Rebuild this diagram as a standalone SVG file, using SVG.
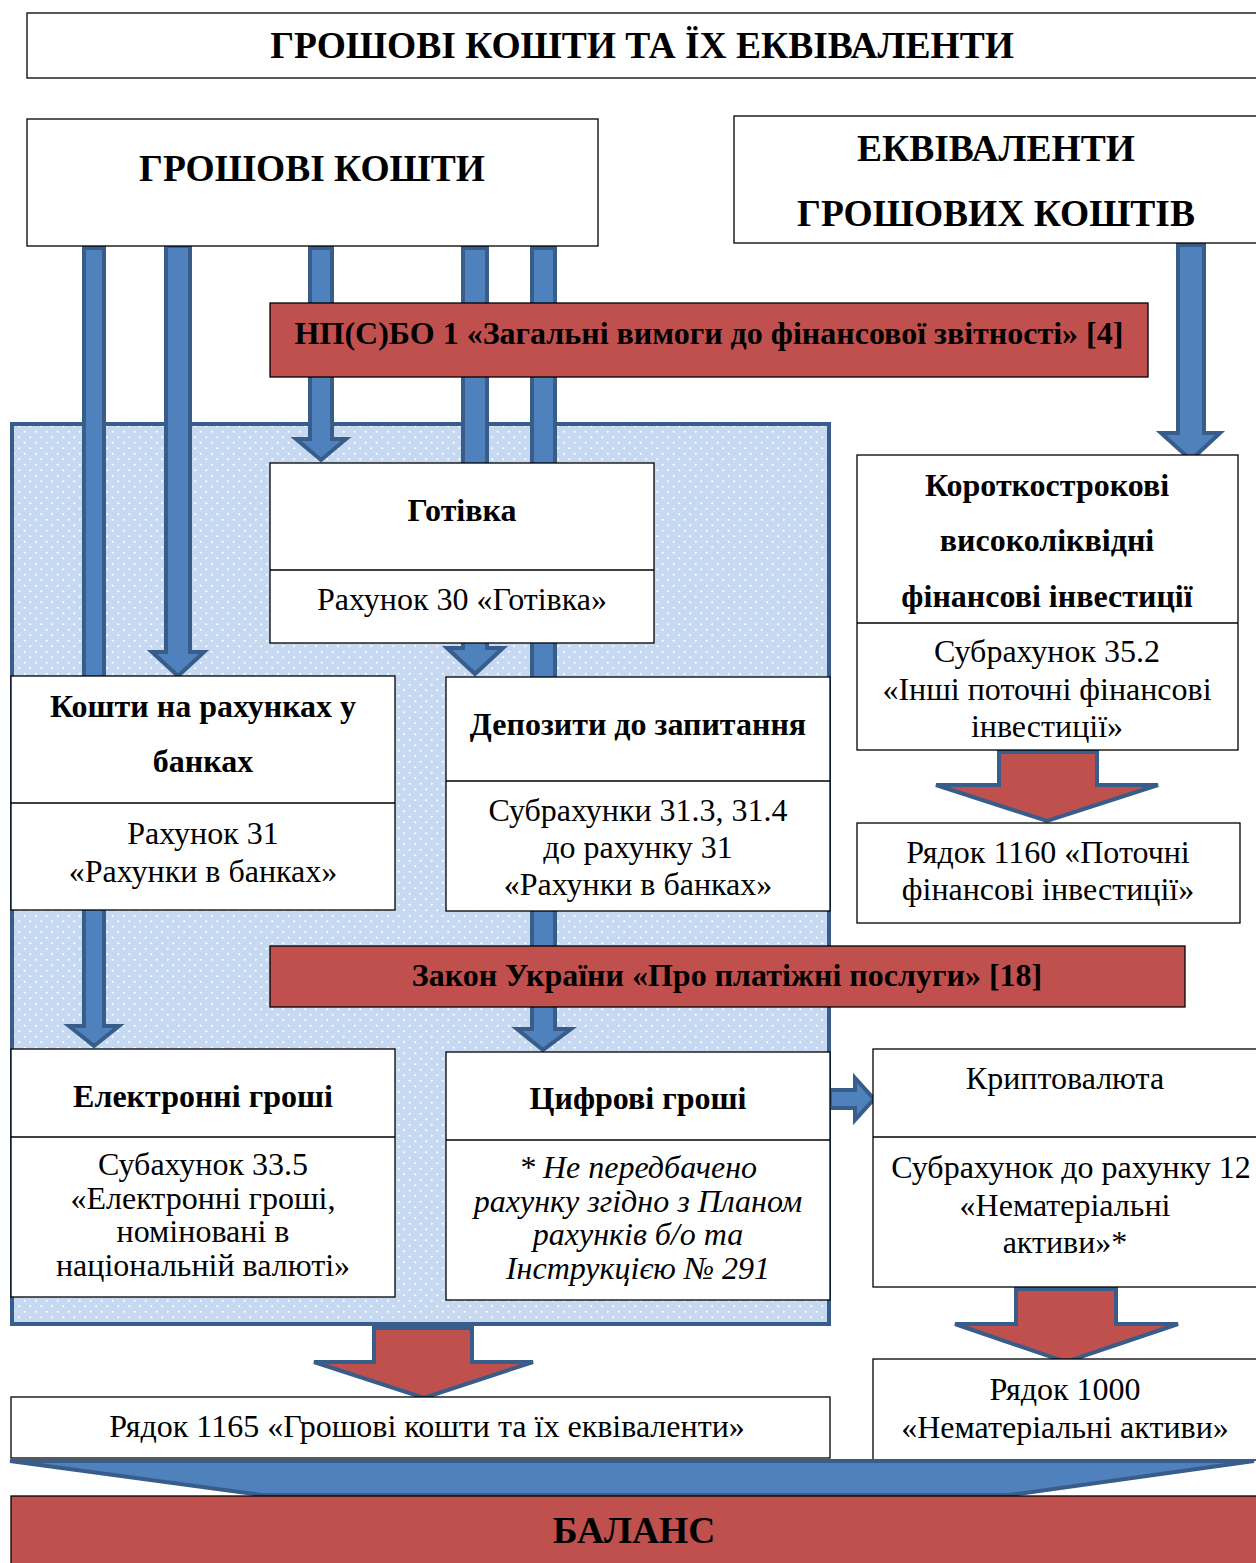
<svg xmlns="http://www.w3.org/2000/svg" width="1256" height="1563" viewBox="0 0 1256 1563">
<defs>
<pattern id="dots" width="11" height="11" patternUnits="userSpaceOnUse">
<rect width="11" height="11" fill="#c6d9f1"/>
<circle cx="2.75" cy="2.75" r="1.1" fill="#ffffff"/>
<circle cx="8.25" cy="8.25" r="1.1" fill="#ffffff"/>
</pattern>
<style>
.box{fill:#ffffff;stroke:#000;stroke-width:1.3}
.red{fill:#c0504d;stroke:#000;stroke-width:1.3}
.ba{fill:#4f81bd;stroke:#385d8a;stroke-width:4;stroke-linejoin:miter}
.ra{fill:#c0504d;stroke:#385d8a;stroke-width:4;stroke-linejoin:miter}
.div{stroke:#000;stroke-width:1.3}
text{font-family:"Liberation Serif","Times New Roman",serif;fill:#000;text-anchor:middle}
.h1{font-size:37.5px;font-weight:bold}
.b{font-size:32px;font-weight:bold}
.r{font-size:32px}
.i{font-size:32px;font-style:italic}
</style>
</defs>
<rect x="0" y="0" width="1256" height="1563" fill="#ffffff"/>

<g id="region">
<rect x="12" y="424" width="817" height="900" fill="url(#dots)" stroke="#385d8a" stroke-width="4"/>
</g>

<g id="connectors">
<path class="ba" d="M84,248 H104 V1026 H119 L94,1046 L69,1026 H84 Z"/>
<path class="ba" d="M166,246 H190 V652 H204 L178,676 L152,652 H166 Z"/>
<path class="ba" d="M310,248 H332 V439 H346 L321,460 L296,439 H310 Z"/>
<path class="ba" d="M463,248 H487 V648 H503 L475,674 L447,648 H463 Z"/>
<path class="ba" d="M532,248 H555 V1029 H571 L543,1050 L517,1029 H532 Z"/>
<path class="ba" d="M1178,245 H1204 V433 H1220 L1191,460 L1161,433 H1178 Z"/>
<path class="ba" d="M830,1090 H855 V1078 L874,1099 L855,1120 V1108 H830 Z"/>
<path class="ra" d="M999,752 H1097 V785 H1158 L1047,821 L936,785 H999 Z"/>
<path class="ra" d="M1016,1289 H1116 V1324 H1178 L1066,1362 L955,1324 H1016 Z"/>
<path class="ra" d="M374,1328 H472 V1362 H533 L424,1398 L314,1362 H374 Z"/>
</g>

<g id="title">
<rect class="box" x="27" y="13" width="1240" height="65"/>
<text class="h1" x="642" y="58">ГРОШОВІ КОШТИ ТА ЇХ ЕКВІВАЛЕНТИ</text>
</g>

<g id="money">
<rect class="box" x="27" y="119" width="571" height="127"/>
<text class="h1" x="312" y="181">ГРОШОВІ КОШТИ</text>
</g>

<g id="equiv">
<rect class="box" x="734" y="116" width="540" height="127"/>
<text class="h1" x="996" y="161">ЕКВІВАЛЕНТИ</text>
<text class="h1" x="996" y="226">ГРОШОВИХ КОШТІВ</text>
</g>

<g id="npsbo">
<rect class="red" x="270" y="303" width="878" height="74"/>
<text class="b" x="709" y="344">НП(С)БО 1 «Загальні вимоги до фінансової звітності» [4]</text>
</g>

<g id="cash">
<rect class="box" x="270" y="463" width="384" height="180"/>
<line class="div" x1="270" y1="570" x2="654" y2="570"/>
<text class="b" x="462" y="521">Готівка</text>
<text class="r" x="462" y="610">Рахунок 30 «Готівка»</text>
</g>

<g id="bank">
<rect class="box" x="11" y="676" width="384" height="234"/>
<line class="div" x1="11" y1="803" x2="395" y2="803"/>
<text class="b" x="203" y="717">Кошти на рахунках у</text>
<text class="b" x="203" y="772">банках</text>
<text class="r" x="203" y="844">Рахунок 31</text>
<text class="r" x="203" y="882">«Рахунки в банках»</text>
</g>

<g id="deposits">
<rect class="box" x="446" y="677" width="384" height="234"/>
<line class="div" x1="446" y1="781" x2="830" y2="781"/>
<text class="b" x="638" y="735">Депозити до запитання</text>
<text class="r" x="638" y="821">Субрахунки 31.3, 31.4</text>
<text class="r" x="638" y="858">до рахунку 31</text>
<text class="r" x="638" y="895">«Рахунки в банках»</text>
</g>

<g id="shortterm">
<rect class="box" x="857" y="455" width="381" height="295"/>
<line class="div" x1="857" y1="623" x2="1238" y2="623"/>
<text class="b" x="1047" y="496">Короткострокові</text>
<text class="b" x="1047" y="551">високоліквідні</text>
<text class="b" x="1047" y="607">фінансові інвестиції</text>
<text class="r" x="1047" y="662">Субрахунок 35.2</text>
<text class="r" x="1047" y="700">«Інші поточні фінансові</text>
<text class="r" x="1047" y="737">інвестиції»</text>
</g>

<g id="row1160">
<rect class="box" x="857" y="823" width="383" height="100"/>
<text class="r" x="1048" y="863">Рядок 1160 «Поточні</text>
<text class="r" x="1048" y="900">фінансові інвестиції»</text>
</g>

<g id="law">
<rect class="red" x="270" y="946" width="915" height="61"/>
<text class="b" x="727" y="986">Закон України «Про платіжні послуги» [18]</text>
</g>

<g id="emoney">
<rect class="box" x="11" y="1049" width="384" height="248"/>
<line class="div" x1="11" y1="1137" x2="395" y2="1137"/>
<text class="b" x="203" y="1107">Електронні гроші</text>
<text class="r" x="203" y="1175">Субахунок 33.5</text>
<text class="r" x="203" y="1209">«Електронні гроші,</text>
<text class="r" x="203" y="1242">номіновані в</text>
<text class="r" x="203" y="1276">національній валюті»</text>
</g>

<g id="digital">
<rect class="box" x="446" y="1052" width="384" height="248"/>
<line class="div" x1="446" y1="1140" x2="830" y2="1140"/>
<text class="b" x="638" y="1109">Цифрові гроші</text>
<text class="i" x="638" y="1178">* Не передбачено</text>
<text class="i" x="638" y="1212">рахунку згідно з Планом</text>
<text class="i" x="638" y="1245">рахунків б/о та</text>
<text class="i" x="638" y="1279">Інструкцією № 291</text>
</g>

<g id="crypto">
<rect class="box" x="873" y="1049" width="400" height="238"/>
<line class="div" x1="873" y1="1137" x2="1256" y2="1137"/>
<text class="r" x="1065" y="1089">Криптовалюта</text>
<text class="r" x="1071" y="1178">Субрахунок до рахунку 12</text>
<text class="r" x="1065" y="1216">«Нематеріальні</text>
<text class="r" x="1065" y="1253">активи»*</text>
</g>

<g id="row1000">
<rect class="box" x="873" y="1359" width="400" height="101"/>
<text class="r" x="1065" y="1400">Рядок 1000</text>
<text class="r" x="1065" y="1438">«Нематеріальні активи»</text>
</g>

<g id="row1165">
<rect class="box" x="11" y="1397" width="819" height="61"/>
<text class="r" x="427" y="1437">Рядок 1165 «Грошові кошти та їх еквіваленти»</text>
</g>

<g id="chevron">
<path class="ba" d="M10,1461 H1254 L1010,1495 H262 Z"/>
</g>

<g id="balance">
<rect class="red" x="11" y="1496" width="1260" height="80"/>
<text class="h1" x="634" y="1543">БАЛАНС</text>
</g>
</svg>
